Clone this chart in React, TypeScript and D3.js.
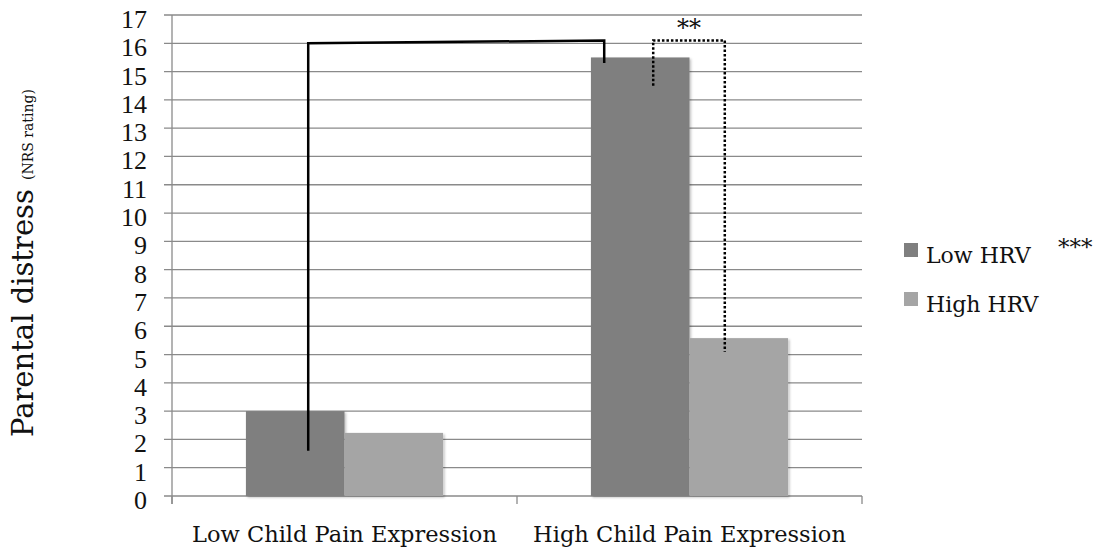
import React from "react";
import * as d3 from "d3";

const categories = ["Low Child Pain Expression", "High Child Pain Expression"];
const seriesNames = ["Low HRV", "High HRV"];
const lowHRV = [3.0, 15.5];
const highHRV = [2.23, 5.58];
const yTicks = d3.range(0, 18);
const colors = ["#7f7f7f", "#a5a5a5"];

// significance brackets (in data units)
const solidBracket = { cat: [0, 1], series: [0, 0], bottoms: [1.6, 15.3], top: [16.0, 16.1] };
const dottedBracket = { cat: [1, 1], series: [0, 1], bottoms: [14.5, 5.1], top: [16.1, 16.1], label: "**" };
const legendNote = "***";

export default function App() {
  const W = 1101, H = 559;
  const left = 172, right = 862, top = 15, bottom = 496;
  const numFont = "'Liberation Serif', 'DejaVu Serif', serif";
  const font = "'DejaVu Serif', 'Liberation Serif', serif";
  const x0 = d3.scaleBand().domain(categories).range([left, right]).paddingInner(0).paddingOuter(0);
  const x1 = d3.scaleBand().domain(seriesNames).range([0, x0.bandwidth()]).paddingInner(0).paddingOuter(0.75);
  const y = d3.scaleLinear().domain([0, 17]).range([bottom, top]);
  const series = [lowHRV, highHRV];
  const barCenter = (ci: number, si: number) => (x0(categories[ci]) as number) + (x1(seriesNames[si]) as number) + x1.bandwidth() / 2;

  const sb = solidBracket;
  const sx = [barCenter(sb.cat[0], sb.series[0]) + 13, barCenter(sb.cat[1], sb.series[1]) - 36];
  const db = dottedBracket;
  const dx = [barCenter(db.cat[0], db.series[0]) + 13, barCenter(db.cat[1], db.series[1]) - 14];

  return (
    <svg width={W} height={H} style={{ display: "block", position: "absolute", left: 0, top: 0 }}>
      <defs>
        <filter id="sh" x="-10%" y="-10%" width="130%" height="130%">
          <feDropShadow dx="1.5" dy="1.5" stdDeviation="1.2" floodColor="#000" floodOpacity="0.25" />
        </filter>
      </defs>
      <rect width={W} height={H} fill="#fff" />
      {yTicks.map((t) => (
        <line key={t} x1={left - 8} x2={right} y1={y(t)} y2={y(t)} stroke="#8a8a8a" strokeWidth={1.3} />
      ))}
      <line x1={left} x2={left} y1={top} y2={bottom + 8} stroke="#8a8a8a" strokeWidth={1.3} />
      {[0, 1, 2].map((i) => (
        <line key={i} x1={left + i * x0.bandwidth()} x2={left + i * x0.bandwidth()} y1={bottom} y2={bottom + 8} stroke="#8a8a8a" strokeWidth={1.3} />
      ))}
      {yTicks.map((t) => (
        <text key={t} x={147} y={y(t) + 13} textAnchor="end" fontFamily={numFont} fontSize={26} fill="#111">{t}</text>
      ))}
      {categories.map((c, ci) =>
        series.map((s, si) => (
          <rect key={c + si} x={(x0(c) as number) + (x1(seriesNames[si]) as number)} width={x1.bandwidth()} y={y(s[ci])} height={bottom - y(s[ci])} fill={colors[si]} filter="url(#sh)" />
        ))
      )}
      {categories.map((c) => (
        <text key={c} x={(x0(c) as number) + x0.bandwidth() / 2} y={542} textAnchor="middle" fontFamily={font} fontSize={22.5} fill="#111">{c}</text>
      ))}
      <path d={`M${sx[0]},${y(sb.bottoms[0])} L${sx[0]},${y(sb.top[0])} L${sx[1]},${y(sb.top[1])} L${sx[1]},${y(sb.bottoms[1])}`} fill="none" stroke="#000" strokeWidth={2.5} />
      <path d={`M${dx[0]},${y(db.bottoms[0])} L${dx[0]},${y(db.top[0])} L${dx[1]},${y(db.top[1])} L${dx[1]},${y(db.bottoms[1])}`} fill="none" stroke="#000" strokeWidth={2.5} strokeDasharray="2.5 2" />
      <text x={(dx[0] + dx[1]) / 2} y={36} textAnchor="middle" fontFamily={font} fontSize={24} fill="#111">{db.label}</text>
      {seriesNames.map((n, i) => (
        <g key={n}>
          <rect x={904} y={243 + i * 49} width={14} height={14} fill={colors[i]} />
          <text x={926} y={263 + i * 49} fontFamily={font} fontSize={22} fill="#111">{n}</text>
        </g>
      ))}
      <text x={1058} y={255} fontFamily={font} fontSize={23} fill="#111">{legendNote}</text>
      <text transform={`translate(33,437) rotate(-90)`} textAnchor="start" fontFamily={font} fill="#111">
        <tspan fontSize={29}>Parental distress </tspan>
        <tspan fontSize={14}>(NRS rating)</tspan>
      </text>
    </svg>
  );
}
